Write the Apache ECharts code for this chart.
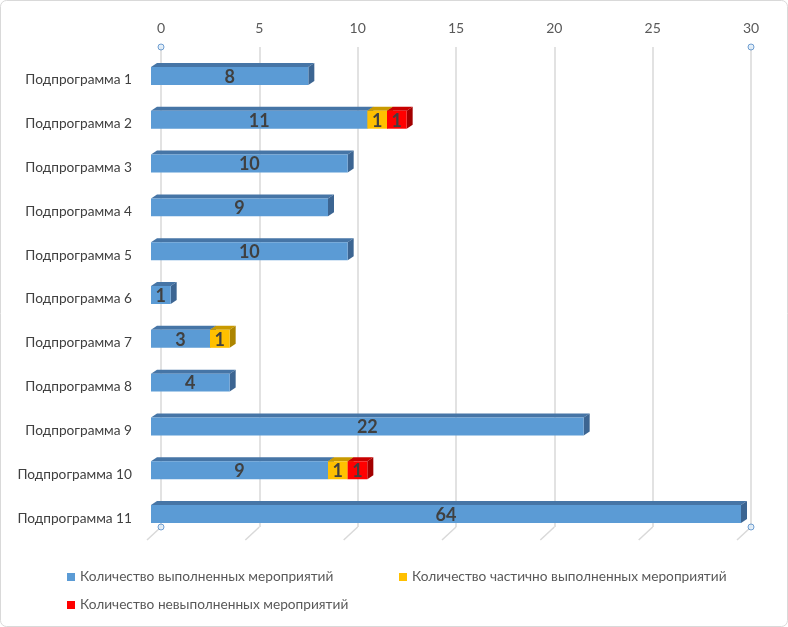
<!DOCTYPE html>
<html>
<head>
<meta charset="utf-8">
<script src="https://cdn.jsdelivr.net/npm/echarts@6/dist/echarts.min.js"></script>
<style>html,body{margin:0;padding:0;background:#fff;}#c{width:788px;height:627px;}</style>
</head>
<body>
<div id="c"></div>
<script>
const categories = ['Подпрограмма 1','Подпрограмма 2','Подпрограмма 3','Подпрограмма 4','Подпрограмма 5','Подпрограмма 6','Подпрограмма 7','Подпрограмма 8','Подпрограмма 9','Подпрограмма 10','Подпрограмма 11'];
const done =    [8, 11, 10, 9, 10, 1, 3, 4, 22, 9, 64];
const partial = [0, 1, 0, 0, 0, 0, 1, 0, 0, 1, 0];
const notDone = [0, 1, 0, 0, 0, 0, 0, 0, 0, 1, 0];
const seriesNames = ['Количество выполненных мероприятий','Количество частично выполненных мероприятий','Количество невыполненных мероприятий'];
const xTicks = [0, 5, 10, 15, 20, 25, 30];
const XMIN = 0, XMAX = 30, XSTEP = 5;

const FONT = 'Lato';
const palettes = [
  {front:'#5B9BD5', top:'#4675A6', side:'#3C6592'},
  {front:'#FFC000', top:'#C99A00', side:'#AD8500'},
  {front:'#FF0000', top:'#C80000', side:'#A30000'}
];
const DX = 6, DY = 4;

// build stacked items [start, end, catIdx, value]
const allVals = [done, partial, notDone];
const stacked = [];
const acc = categories.map(() => 0);
allVals.forEach(arr => {
  stacked.push(arr.map((v, i) => { const s = acc[i]; acc[i] += v; return [s, s + v, i, v]; }));
});

function makeRender(pal) {
  return function (params, api) {
    const val = api.value(3);
    if (!(val > 0)) return null;
    const start = Math.max(XMIN, Math.min(api.value(0), XMAX));
    const end = Math.max(XMIN, Math.min(api.value(1), XMAX));
    if (end <= start) return null;
    const cat = api.value(2);
    const p0 = api.coord([start, cat]);
    const p1 = api.coord([end, cat]);
    const h = api.size([0, 1])[1] * 0.41;
    const y0 = p0[1] - h / 2;
    const x0 = p0[0], x1 = p1[0];
    return {
      type: 'group',
      children: [
        {type:'polygon', shape:{points:[[x0,y0],[x0+DX,y0-DY],[x1+DX,y0-DY],[x1,y0]]}, style:{fill:pal.top}},
        {type:'polygon', shape:{points:[[x1,y0],[x1+DX,y0-DY],[x1+DX,y0+h-DY],[x1,y0+h]]}, style:{fill:pal.side}},
        {type:'rect', shape:{x:x0, y:y0, width:x1-x0, height:h}, style:{fill:pal.front}},
        {type:'text', style:{text:String(val), x:(x0+x1)/2, y:p0[1]+1, align:'center', verticalAlign:'middle',
          font:'bold 18px ' + FONT, fill:'#404040'}}
      ]
    };
  };
}

const chart = echarts.init(document.getElementById('c'));
const series = stacked.map((data, k) => ({
  name: seriesNames[k],
  type: 'custom',
  xAxisIndex: 1, yAxisIndex: 1,
  itemStyle: {color: palettes[k].front},
  renderItem: makeRender(palettes[k]),
  encode: {x: [0, 1], y: 2},
  data: data,
  z: 5
}));

// floor diagonals of the back grid
series.push({
  type: 'custom', xAxisIndex: 0, yAxisIndex: 0, silent: true, z: 1,
  data: xTicks.map(t => [t, 0]),
  renderItem: function (params, api) {
    const p = api.coord([api.value(0), api.value(1)]);
    return {type:'line', shape:{x1:p[0], y1:p[1], x2:p[0]-14, y2:p[1]+13}, style:{stroke:'#d9d9d9', lineWidth:1.5}};
  }
});
// axis handles (corner circles)
series.push({
  type: 'scatter', xAxisIndex: 0, yAxisIndex: 0, silent: true, z: 6,
  symbol: 'circle', symbolSize: 6,
  itemStyle: {color:'#DDEBF7', borderColor:'#4F88C6', borderWidth: 1},
  data: [[XMIN, 1], [XMAX, 1], [XMIN, 0], [XMAX, 0]]
});

const legendText = {color: '#595959', fontSize: 13.7, fontFamily: FONT};
chart.setOption({
  backgroundColor: '#ffffff',
  animation: false,
  textStyle: {fontFamily: FONT},
  graphic: [{type:'rect', shape:{x:0.5, y:0.5, width:787, height:626, r:6}, style:{fill:'none', stroke:'#d9d9d9', lineWidth:1}, z:-1}],
  grid: [
    {left: 161, width: 590, top: 47, height: 480, containLabel: false},
    {left: 151, width: 590, top: 54, height: 482, containLabel: false},
    {left: 151, width: 590, top: 58, height: 482, containLabel: false}
  ],
  xAxis: [
    {gridIndex: 0, type: 'value', position: 'top', min: XMIN, max: XMAX, interval: XSTEP,
     axisLine: {show: false}, axisTick: {show: false},
     axisLabel: {color: '#595959', fontSize: 14, margin: 12, fontFamily: FONT},
     splitLine: {show: true, lineStyle: {color: '#d9d9d9', width: 1.5}}},
    {gridIndex: 1, type: 'value', min: XMIN, max: XMAX, interval: XSTEP, show: false},
    {gridIndex: 2, type: 'value', min: XMIN, max: XMAX, interval: XSTEP, show: false}
  ],
  yAxis: [
    {gridIndex: 0, type: 'value', min: 0, max: 1, show: false},
    {gridIndex: 1, type: 'category', inverse: true, data: categories, show: false},
    {gridIndex: 2, type: 'category', inverse: true, data: categories,
     axisLine: {show: false}, axisTick: {show: false}, splitLine: {show: false},
     axisLabel: {color: '#404040', fontSize: 13.7, margin: 19, fontFamily: FONT}}
  ],
  legend: [
    {data: [seriesNames[0]], left: 62, top: 565, icon: 'rect', itemWidth: 8, itemHeight: 8, itemGap: 0, textStyle: legendText},
    {data: [seriesNames[1]], left: 394, top: 565, icon: 'rect', itemWidth: 8, itemHeight: 8, itemGap: 0, textStyle: legendText},
    {data: [seriesNames[2]], left: 62, top: 593, icon: 'rect', itemWidth: 8, itemHeight: 8, itemGap: 0, textStyle: legendText}
  ],
  series: series
});
</script>
</body>
</html>
